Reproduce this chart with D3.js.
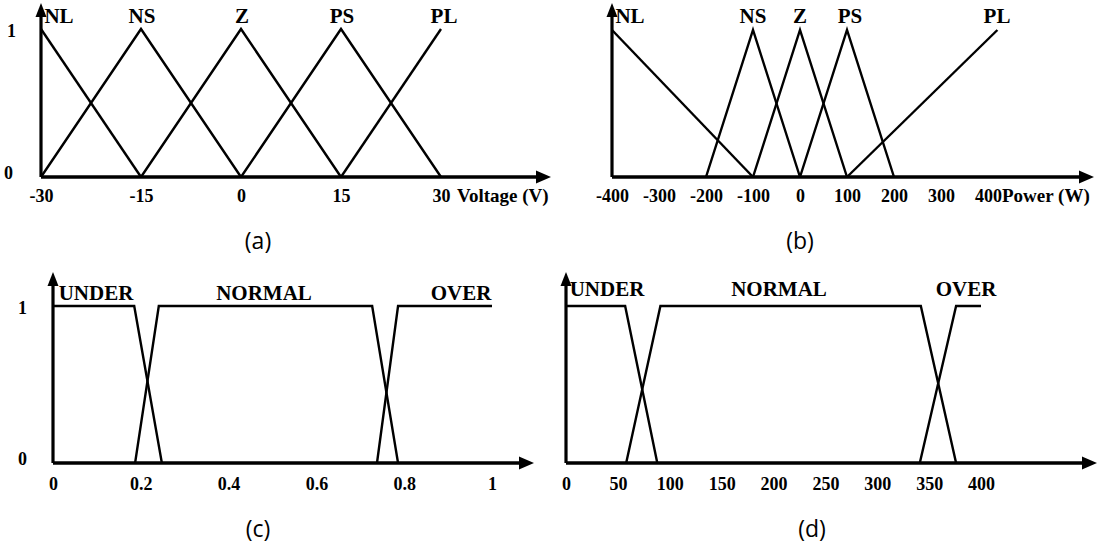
<!DOCTYPE html>
<html lang="en">
<head>
    <meta charset="UTF-8">
    <title>Membership functions</title>
    <script src="https://d3js.org/d3.v7.min.js"></script>
</head>
<style>
    body { margin: 0; background: #fff; }
    .lbl { font-family: "Liberation Serif", "Times New Roman", serif; font-weight: bold; fill: #000; }
    .cap { font-family: "Open Sans", "Noto Sans", sans-serif; fill: #000; }
</style>
<body>
<svg id="main" width="1097" height="547"></svg>
<script>
    // ---- data ----
    // (a) voltage error
    const voltTicks = [-30, -15, 0, 15, 30];
    const voltNames = ['NL', 'NS', 'Z', 'PS', 'PL'];
    const voltNL = [[-30, 1], [-15, 0]];
    const voltNS = [[-30, 0], [-15, 1], [0, 0]];
    const voltZ = [[-15, 0], [0, 1], [15, 0]];
    const voltPS = [[0, 0], [15, 1], [30, 0]];
    const voltPL = [[15, 0], [30, 1]];

    // (b) power
    const powTicks = [-400, -300, -200, -100, 0, 100, 200, 300, 400];
    const powNames = ['NL', 'NS', 'Z', 'PS', 'PL'];
    const powNL = [[-400, 1], [-100, 0]];
    const powNS = [[-200, 0], [-100, 1], [0, 0]];
    const powZ = [[-100, 0], [0, 1], [100, 0]];
    const powPS = [[0, 0], [100, 1], [200, 0]];
    const powPL = [[100, 0], [420, 1]];

    // (c) state of charge
    const socTicks = [0, 0.2, 0.4, 0.6, 0.8, 1];
    const socNames = ['UNDER', 'NORMAL', 'OVER'];
    const socUnder = [[0, 1], [0.185, 1], [0.248, 0]];
    const socNormal = [[0.187, 0], [0.241, 1], [0.727, 1], [0.786, 0]];
    const socOver = [[0.738, 0], [0.786, 1], [1, 1]];

    // (d)
    const dTicks = [0, 50, 100, 150, 200, 250, 300, 350, 400];
    const dNames = ['UNDER', 'NORMAL', 'OVER'];
    const dUnder = [[0, 1], [57, 1], [88, 0]];
    const dNormal = [[58, 0], [91, 1], [342, 1], [376, 0]];
    const dOver = [[341, 0], [376, 1], [400, 1]];

    let svg = d3.select('svg#main');

    function panel(o) {
        let x = d3.scaleLinear().domain(o.domain).range(o.xr);
        let y = d3.scaleLinear().domain([0, 1]).range(o.yr);
        let g = svg.append('g');
        let x0 = x(o.domain[0]), y0 = y(0);

        // axes with arrows
        g.append('line').attr('x1', x0).attr('y1', y0).attr('x2', o.arrowX - 10).attr('y2', y0)
            .attr('stroke', '#000').attr('stroke-width', 3.6);
        g.append('line').attr('x1', x0).attr('y1', y0).attr('x2', x0).attr('y2', o.arrowTop + 10)
            .attr('stroke', '#000').attr('stroke-width', 3.2);
        g.append('path')
            .attr('d', `M${o.arrowX},${y0} L${o.arrowX - 15},${y0 - 6.5} L${o.arrowX - 15},${y0 + 6.5} Z`);
        g.append('path')
            .attr('d', `M${x0},${o.arrowTop} L${x0 - 5.5},${o.arrowTop + 14} L${x0 + 5.5},${o.arrowTop + 14} Z`);

        // tick labels
        let ax = g.append('g').attr('transform', `translate(0,${y0})`)
            .call(d3.axisBottom(x).tickValues(o.ticks).tickSize(0).tickPadding(o.pad)
                .tickFormat(d => String(d)));
        ax.select('.domain').remove();
        ax.selectAll('.tick text').attr('font-size', 18)
            .style('font-family', '"Liberation Serif", serif').style('font-weight', 'bold');

        if (o.unit) {
            g.append('text').attr('class', 'lbl').attr('x', o.unitX).attr('y', y0 + o.pad + 13)
                .attr('font-size', 19).text(o.unit);
        }
        if (o.yLabX !== undefined) {
            g.append('text').attr('class', 'lbl').attr('x', o.yLabX).attr('y', y(1) + 8)
                .attr('font-size', 18).text('1');
            g.append('text').attr('class', 'lbl').attr('x', o.yLabX - o.zeroShift).attr('y', y0 + 2)
                .attr('font-size', 18).text('0');
        }

        let line = d3.line().x(d => x(d[0])).y(d => y(d[1]));
        g.selectAll('path.mf').data(o.sets).enter().append('path')
            .attr('class', 'mf')
            .attr('fill', 'none').attr('stroke', '#000').attr('stroke-width', 2.4)
            .attr('d', line);

        g.selectAll('text.name').data(o.names).enter().append('text')
            .attr('class', 'lbl')
            .attr('x', (d, i) => o.nameX[i]).attr('y', o.nameY)
            .attr('text-anchor', 'middle').attr('font-size', 21)
            .text(d => d);

        g.append('text').attr('class', 'cap').attr('x', o.capX).attr('y', o.capY)
            .attr('text-anchor', 'middle').attr('font-size', 23).text(o.cap);
    }

    panel({domain: [-30, 30], xr: [41, 441], yr: [177, 29], arrowX: 551, arrowTop: 3, pad: 12,
        ticks: voltTicks, sets: [voltNL, voltNS, voltZ, voltPS, voltPL], names: voltNames,
        nameX: [59, 142, 242, 342, 444], nameY: 23, unit: 'Voltage (V)', unitX: 457,
        yLabX: 7, zeroShift: 3, cap: '(a)', capX: 258, capY: 249});

    panel({domain: [-400, 400], xr: [612, 988], yr: [177, 30], arrowX: 1094, arrowTop: 3, pad: 12,
        ticks: powTicks, sets: [powNL, powNS, powZ, powPS, powPL], names: powNames,
        nameX: [630, 753, 800, 850, 997], nameY: 23, unit: 'Power (W)', unitX: 1002,
        cap: '(b)', capX: 800, capY: 249});

    panel({domain: [0, 1], xr: [53, 492], yr: [463, 306], arrowX: 534, arrowTop: 272, pad: 14,
        ticks: socTicks, sets: [socUnder, socNormal, socOver], names: socNames,
        nameX: [96, 264, 461], nameY: 300, yLabX: 18, zeroShift: 0,
        cap: '(c)', capX: 258, capY: 537});

    panel({domain: [0, 400], xr: [566, 981], yr: [463, 306], arrowX: 1097, arrowTop: 272, pad: 14,
        ticks: dTicks, sets: [dUnder, dNormal, dOver], names: dNames,
        nameX: [607, 779, 966], nameY: 296,
        cap: '(d)', capX: 812, capY: 537});
</script>
</body>
</html>
